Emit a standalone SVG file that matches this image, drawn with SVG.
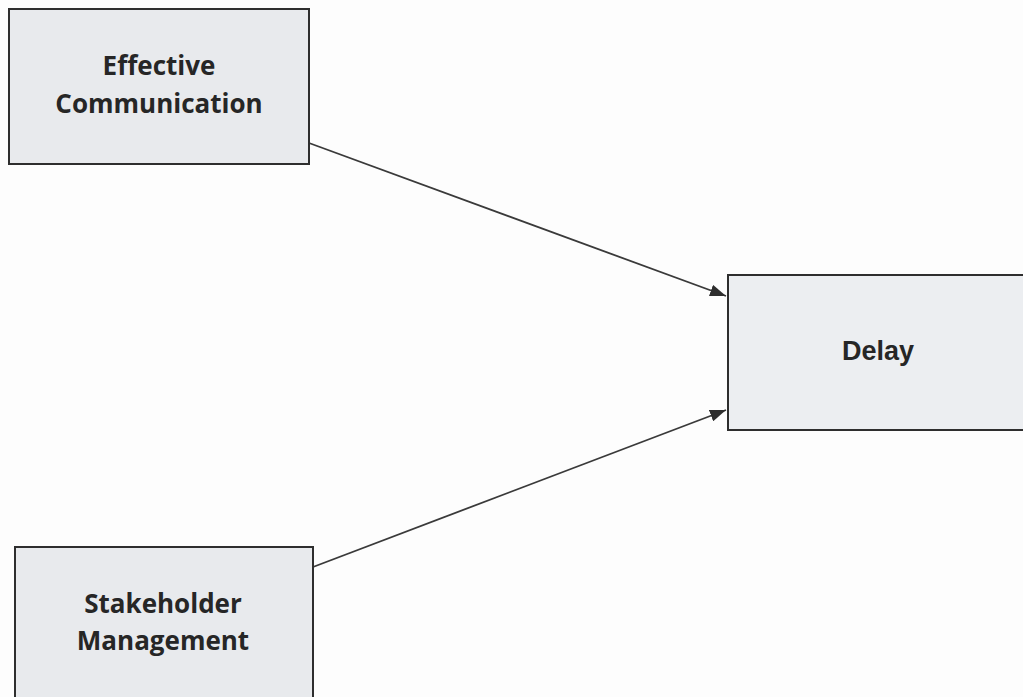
<svg xmlns="http://www.w3.org/2000/svg" width="1023" height="697" viewBox="0 0 1023 697">
<style>
.box{fill:#e8eaed;stroke:#2e2e2e;stroke-width:2}
.lbl{font-family:"Open Sans","Noto Sans",sans-serif;font-weight:700;font-size:26px;fill:#262626;text-anchor:middle}
.dl{font-family:"Liberation Sans",Arial,sans-serif;font-weight:700;font-size:27px;fill:#262626;text-anchor:middle}
.edge{stroke:#3a3a3a;stroke-width:1.8;fill:none;marker-end:url(#arr)}
</style>
<defs>
<marker id="arr" viewBox="0 0 16 12" refX="16" refY="6" markerWidth="16" markerHeight="12" markerUnits="userSpaceOnUse" orient="auto">
<path d="M0,0 L16,6 L0,12 z" fill="#2e2e2e"/>
</marker>
</defs>
<rect width="1023" height="697" fill="#fdfdfd"/>
<g id="connectors">
<line class="edge" x1="309" y1="143" x2="726" y2="296"/>
<line class="edge" x1="313" y1="567" x2="726" y2="410"/>
</g>
<g id="effective-communication">
<rect class="box" x="9" y="9" width="300" height="155"/>
<text class="lbl" x="159" y="75">Effective</text>
<text class="lbl" x="159" y="113">Communication</text>
</g>
<g id="stakeholder-management">
<rect class="box" x="15" y="547" width="298" height="160"/>
<text class="lbl" x="163" y="613">Stakeholder</text>
<text class="lbl" x="163" y="650">Management</text>
</g>
<g id="delay">
<rect class="box" x="728" y="275" width="305" height="155" style="fill:#eceef1"/>
<text class="dl" x="878" y="360">Delay</text>
</g>
</svg>
